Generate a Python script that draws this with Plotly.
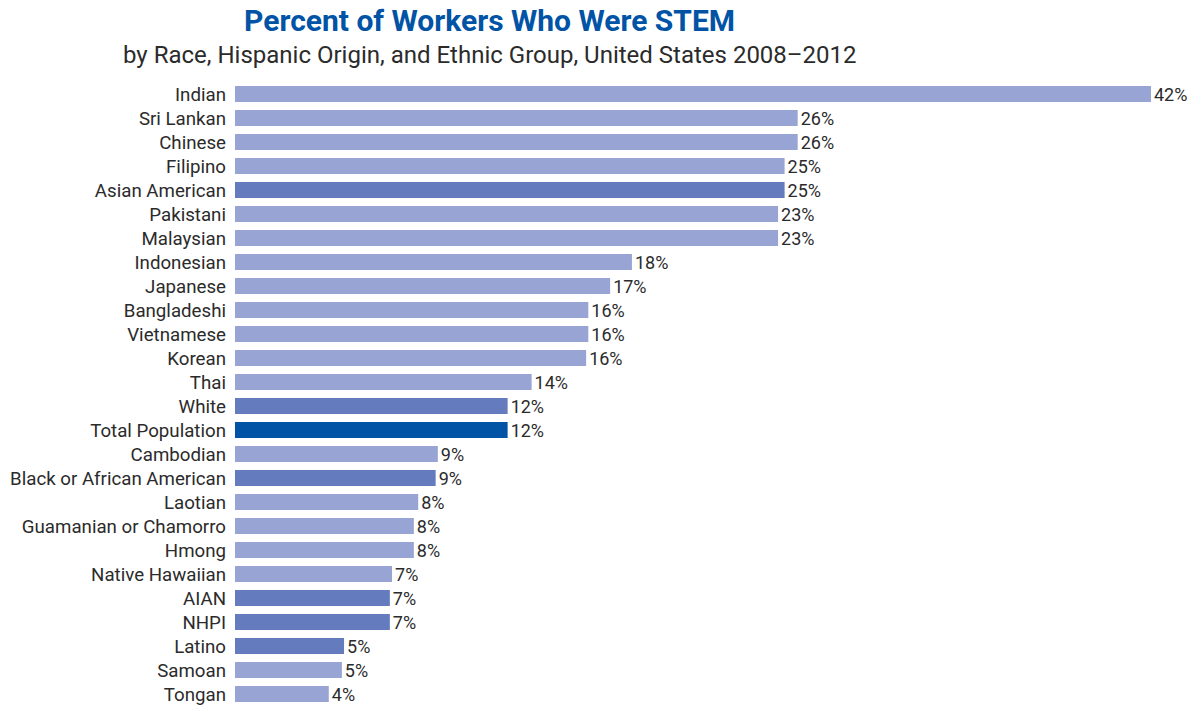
import plotly.graph_objects as go

categories = ["Indian", "Sri Lankan", "Chinese", "Filipino", "Asian American", "Pakistani",
              "Malaysian", "Indonesian", "Japanese", "Bangladeshi", "Vietnamese", "Korean",
              "Thai", "White", "Total Population", "Cambodian", "Black or African American",
              "Laotian", "Guamanian or Chamorro", "Hmong", "Native Hawaiian", "AIAN", "NHPI",
              "Latino", "Samoan", "Tongan"]
values = [42.0, 25.8, 25.8, 25.2, 25.2, 24.9, 24.9, 18.2, 17.2, 16.2, 16.2, 16.1,
          13.6, 12.5, 12.5, 9.3, 9.2, 8.4, 8.2, 8.2, 7.2, 7.1, 7.1, 5.0, 4.9, 4.3]
labels = ["42%", "26%", "26%", "25%", "25%", "23%", "23%", "18%", "17%", "16%", "16%", "16%",
          "14%", "12%", "12%", "9%", "9%", "8%", "8%", "8%", "7%", "7%", "7%", "5%", "5%", "4%"]
groups = ["eth", "eth", "eth", "eth", "race", "eth", "eth", "eth", "eth", "eth", "eth", "eth",
          "eth", "race", "total", "eth", "race", "eth", "eth", "eth", "eth", "race", "race",
          "race", "eth", "eth"]

palette = {"eth": "#98a4d4", "race": "#647bbd", "total": "#0053a5"}
colors = [palette[g] for g in groups]

fig = go.Figure(go.Bar(
    x=values, y=categories, orientation="h",
    marker=dict(color=colors, line=dict(width=0)),
    text=labels, textposition="outside", cliponaxis=False, constraintext="none",
    textfont=dict(family="Roboto", size=18, color="#2b2b2b"),
    hoverinfo="skip",
))

fig.update_layout(
    width=1200, height=708,
    margin=dict(l=235, r=49, t=82, b=2, autoexpand=False),
    paper_bgcolor="white", plot_bgcolor="white",
    bargap=0.33,
    showlegend=False,
    title=dict(text="<b>Percent of Workers Who Were STEM</b>",
               x=0.408, xanchor="center", xref="container",
               y=0.971, yanchor="middle", yref="container",
               font=dict(family="Roboto", size=30, color="#0053a5")),
    annotations=[dict(text="by Race, Hispanic Origin, and Ethnic Group, United States 2008\u20132012",
                      xref="paper", yref="paper", x=0.278, y=1.0 + (82 - 55) / 624,
                      xanchor="center", yanchor="middle", showarrow=False,
                      font=dict(family="Roboto", size=24, color="#2b2b2b"))],
    font=dict(family="Roboto", color="#2b2b2b"),
)
fig.update_xaxes(range=[0, 42], visible=False)
fig.update_yaxes(autorange="reversed", showline=False, showgrid=False, ticks="",
                 ticklabelstandoff=8, tickfont=dict(family="Roboto", size=18.7, color="#2b2b2b"))

fig.write_html("out.html", config={"displayModeBar": False},
               post_script="document.body.style.margin='0';document.body.style.padding='0';")
